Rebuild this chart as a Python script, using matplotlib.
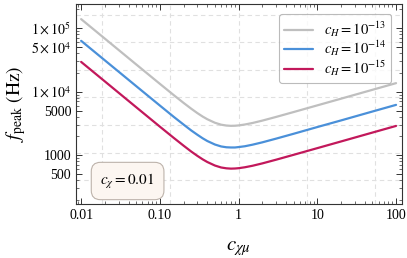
import matplotlib
matplotlib.use("Agg")
import matplotlib.pyplot as plt
import numpy as np
from matplotlib.ticker import FixedLocator, LogLocator, NullFormatter

plt.rcParams['font.family'] = ['Liberation Serif', 'DejaVu Serif']
plt.rcParams['mathtext.fontset'] = 'stix'

# values
c_chimu = [0.01, 0.02, 0.05, 0.1, 0.15, 0.2, 0.25, 0.3, 0.35, 0.4, 0.5, 0.6, 0.7,
           0.8, 0.9, 1.0, 1.2, 1.5, 2, 3, 5, 10, 20, 50, 100]
f_13 = [138700, 68400, 26850, 13270, 8820, 6650, 5390, 4585, 4047, 3680, 3236, 3016, 2924,
        2893, 2904, 2937, 3036, 3206, 3496, 4000, 4772, 6081, 7745, 10680, 13610]
f_14 = [63110, 31120, 12220, 6040, 4010, 3030, 2450, 2090, 1840, 1670, 1470, 1370, 1330,
        1320, 1320, 1340, 1380, 1460, 1590, 1820, 2170, 2770, 3520, 4860, 6190]
f_15 = [29400, 14500, 5690, 2810, 1870, 1410, 1140, 972, 858, 780, 686, 639, 620,
        613, 616, 623, 644, 680, 741, 848, 1012, 1289, 1642, 2264, 2885]
labels = [r'$c_H = 10^{-13}$', r'$c_H = 10^{-14}$', r'$c_H = 10^{-15}$']
colors = ['#bfbfbf', '#4a90d9', '#c2185b']

yticks = [500, 1000, 5000, 1e4, 5e4, 1e5]
ytick_labels = ['500', '1000', '5000', r'$1\times10^4$', r'$5\times10^4$', r'$1\times10^5$']
xticks = [0.01, 0.1, 1, 10, 100]
xtick_labels = ['0.01', '0.10', '1', '10', '100']

fig = plt.figure(figsize=(4.07, 2.58), dpi=100)
ax = fig.add_axes([0.1867, 0.2093, 0.801, 0.7752])

for ys, lab, col in zip([f_13, f_14, f_15], labels, colors):
    ax.plot(c_chimu, ys, color=col, lw=1.6, label=lab, solid_capstyle='round')

ax.set_xscale('log')
ax.set_yscale('log')
ax.set_xlim(0.0086, 119)
ax.set_ylim(170, 2.4e5)

# grid at integer natural-log values
for n in [-4, -2, 0, 2, 4]:
    ax.axvline(np.exp(n), color='#e0e0e0', lw=0.8, ls=(0, (4, 3)), zorder=0)
for n in range(6, 13):
    ax.axhline(np.exp(n), color='#e0e0e0', lw=0.8, ls=(0, (4, 3)), zorder=0)

ax.xaxis.set_major_locator(FixedLocator(xticks))
ax.set_xticklabels(xtick_labels)
ax.xaxis.set_minor_locator(LogLocator(base=10, subs=np.arange(2, 10)))
ax.xaxis.set_minor_formatter(NullFormatter())
ax.yaxis.set_major_locator(FixedLocator(yticks))
ax.set_yticklabels(ytick_labels)
ax.yaxis.set_minor_locator(LogLocator(base=10, subs=np.arange(1, 10)))
ax.yaxis.set_minor_formatter(NullFormatter())

ax.tick_params(which='both', direction='in', top=True, right=True, colors='#333333',
               labelcolor='black', labelsize=10)
ax.tick_params(which='major', length=4, width=0.7)
ax.tick_params(which='minor', length=2, width=0.5)
for s in ax.spines.values():
    s.set_color('#333333')
    s.set_linewidth(0.8)

ax.set_xlabel(r'$c_{\chi\mu}$', fontsize=15, labelpad=12)
ax.set_ylabel(r'$f_{\rm peak}\ (\mathrm{Hz})$', fontsize=14, labelpad=2)

leg = ax.legend(loc='upper right', fontsize=10.5, frameon=True, fancybox=True,
                edgecolor='#aaaaaa', handlelength=2.0, labelspacing=0.02,
                borderpad=0.35, handletextpad=0.7, bbox_to_anchor=(0.99, 0.985))
leg.get_frame().set_linewidth(0.8)

ax.text(0.075, 0.115, r'$c_\chi = 0.01$', transform=ax.transAxes, fontsize=11,
        ha='left', va='center',
        bbox=dict(boxstyle='round,pad=0.6', fc='#fcf6f1', ec='#bdb3ab', lw=0.8))

fig.savefig('out.png', dpi=100)
